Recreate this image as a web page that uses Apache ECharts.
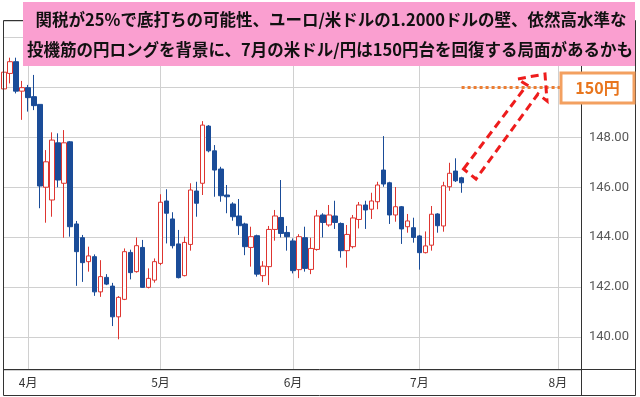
<!DOCTYPE html>
<html><head><meta charset="utf-8">
<script src="https://cdn.jsdelivr.net/npm/echarts@6/dist/echarts.min.js"></script>
<style>html,body{margin:0;padding:0;background:#fff}#c{width:640px;height:397px}</style>
</head><body><div id="c"></div>
<script>
// Trading days (weekdays) shown on the category axis
const dates = [
 '3/26','3/27','3/28','3/31',
 '4/1','4/2','4/3','4/4','4/7','4/8','4/9','4/10','4/11','4/14','4/15','4/16','4/17','4/18','4/21','4/22','4/23','4/24','4/25','4/28','4/29','4/30',
 '5/1','5/2','5/5','5/6','5/7','5/8','5/9','5/12','5/13','5/14','5/15','5/16','5/19','5/20','5/21','5/22','5/23','5/26','5/27','5/28','5/29','5/30',
 '6/2','6/3','6/4','6/5','6/6','6/9','6/10','6/11','6/12','6/13','6/16','6/17','6/18','6/19','6/20','6/23','6/24','6/25','6/26','6/27','6/30',
 '7/1','7/2','7/3','7/4','7/7','7/8','7/9','7/10','7/11','7/14','7/15','7/16','7/17','7/18','7/21','7/22','7/23','7/24','7/25','7/28','7/29','7/30','7/31',
 '8/1','8/4','8/5','8/6','8/7'
];
const opens = [149.94,150.56,151.03,149.85,149.99,149.63,149.32,146.00,145.49,147.78,146.16,147.82,144.53,143.98,143.02,143.22,141.81,142.39,142.04,140.81,
 141.51,143.39,142.62,143.59,141.99,142.28,142.95,145.45,144.73,143.73,142.46,143.71,145.85,146.16,148.45,147.46,146.73,145.69,145.33,144.85,
 144.53,143.59,144.06,142.46,142.82,144.31,144.79,144.19,143.85,142.70,143.98,142.71,143.51,144.89,144.49,144.85,144.55,143.46,143.62,144.71,
 145.29,145.12,145.42,146.69,146.18,144.89,145.22,144.42,144.38,144.05,143.38,143.68,144.93,144.45,146.02,146.65,146.38];
const closes = [150.61,151.03,149.85,149.99,149.59,149.27,146.05,147.02,147.89,146.29,147.78,144.42,143.42,142.98,143.25,141.81,142.42,142.12,140.81,141.59,
 143.42,142.58,143.66,141.99,142.35,143.02,145.40,144.96,143.66,142.38,143.79,145.89,145.36,148.49,147.46,146.69,145.66,145.62,144.82,144.46,
 143.62,144.02,142.52,142.84,144.31,144.85,144.15,144.02,142.66,144.02,142.75,143.55,144.85,144.59,144.89,144.59,143.46,144.11,144.77,145.29,
 145.09,145.45,146.09,146.13,144.89,145.22,144.33,144.65,143.99,143.38,143.65,144.92,144.46,146.06,146.56,146.26,146.18];
const lows = [149.85,150.16,149.76,148.70,149.03,149.09,145.16,144.58,144.82,146.00,143.98,144.02,142.05,142.21,142.62,141.65,141.61,142.08,140.44,139.91,
 141.48,142.31,142.58,141.97,141.95,142.18,142.88,143.75,143.55,142.35,142.43,143.46,144.82,145.69,147.40,145.62,145.42,144.96,144.66,144.09,
 143.28,142.82,142.42,142.21,142.08,143.86,143.99,143.46,142.55,142.36,142.62,142.52,143.46,143.99,144.42,144.33,143.18,142.78,143.55,144.35,
 144.33,144.73,145.12,146.02,144.53,144.62,143.73,144.18,143.78,142.70,143.35,143.46,144.18,144.22,145.86,146.21,145.78];
const highs = [150.75,151.19,151.19,150.26,150.10,150.50,149.32,147.49,148.20,148.16,148.29,147.85,144.65,144.09,143.62,143.31,143.08,142.52,142.17,141.64,
 143.55,143.50,143.99,143.89,142.75,143.15,145.72,145.92,145.00,144.29,144.02,146.16,146.22,148.65,148.49,147.69,146.82,146.09,145.40,145.53,
 144.58,144.42,144.10,143.04,144.45,145.09,146.29,144.45,143.95,144.12,144.42,143.98,145.09,144.96,145.29,145.46,144.59,144.49,144.89,145.41,
 145.46,145.78,146.22,148.05,146.22,146.01,145.25,144.93,144.78,144.09,144.23,145.25,144.96,146.22,146.98,147.16,146.42];
const targetLevel = 150;
const targetLabel = '150円';
const titleLines = [
 '関税が25%で底打ちの可能性、ユーロ/米ドルの1.2000ドルの壁、依然高水準な',
 '投機筋の円ロングを背景に、7月の米ドル/円は150円台を回復する局面があるかも'
];

const ohlc = opens.map((o, i) => [o, closes[i], lows[i], highs[i]]);
const isMonthStart = (i) => i > 0 && dates[i].split('/')[0] !== dates[i - 1].split('/')[0];

const chart = echarts.init(document.getElementById('c'), null, {renderer: 'canvas'});
const RED = '#de3530', BLUE = '#1a4c98';
chart.setOption({
  animation: false,
  backgroundColor: '#fff',
  grid: {left: 4, right: 58, top: 21, bottom: 27},
  xAxis: {
    type: 'category', data: dates, boundaryGap: false,
    axisLine: {show: false}, axisTick: {show: false},
    axisLabel: {interval: (i) => isMonthStart(i), formatter: (v) => v.split('/')[0] + '月',
      color: '#333', fontSize: 12, margin: 6, fontFamily: '"Noto Sans CJK JP"'},
    splitLine: {show: true, interval: (i) => isMonthStart(i), lineStyle: {color: '#d0d0d0', width: 1}}
  },
  yAxis: {
    type: 'value', position: 'right', min: 138.68, max: 152.66, splitNumber: 7, scale: true,
    axisLine: {show: false}, axisTick: {show: false},
    axisLabel: {showMinLabel: false, showMaxLabel: false, formatter: (v) => v.toFixed(2),
      color: '#595959', fontSize: 13, margin: 7, fontFamily: 'Roboto'},
    splitLine: {lineStyle: {color: '#d0d0d0', width: 1}}
  },
  series: [{
    type: 'candlestick', data: ohlc, barWidth: 5,
    itemStyle: {color: '#fff', color0: BLUE, borderColor: RED, borderColor0: BLUE, borderWidth: 1},
    markLine: {
      silent: true, symbol: 'none', label: {show: false},
      lineStyle: {color: '#ed7d31', width: 3, type: [3, 3]},
      data: [[{coord: [dates[76], targetLevel]}, {coord: [dates[93], targetLevel]}]]
    }
  }],
  graphic: [
    {type: 'line', z: 50, shape: {x1: 581.5, y1: 20.5, x2: 581.5, y2: 396}, style: {stroke: '#333', lineWidth: 1}},
    {type: 'line', z: 50, shape: {x1: 3.5, y1: 369.5, x2: 636, y2: 369.5}, style: {stroke: '#333', lineWidth: 1}},
    {type: 'rect', z: 50, shape: {x: 3.5, y: 20.5, width: 632, height: 375}, style: {fill: 'none', stroke: '#333', lineWidth: 1}},
    {type: 'polygon', z: 60, shape: {points: [[463.5,169],[527,85],[517.5,79],[545,74],[547,101],[538,94],[476,179]]},
      style: {fill: 'none', stroke: '#ee1c1c', lineWidth: 3, lineDash: [8, 5]}},
    {type: 'rect', z: 70, shape: {x: 561, y: 73, width: 73, height: 30}, style: {fill: '#fff', stroke: '#f3a060', lineWidth: 3}},
    {type: 'text', z: 71, x: 597.5, y: 88, style: {text: targetLabel, fill: '#e8761e', font: 'bold 16px "Noto Sans CJK JP"', align: 'center', verticalAlign: 'middle'}},
    {type: 'rect', z: 80, shape: {x: 23, y: 2, width: 612, height: 64}, style: {fill: '#fa9fd0'}},
    {type: 'text', z: 81, x: 331, y: 20, style: {text: titleLines[0], fill: '#111', font: 'bold 16.5px "Noto Sans CJK JP"', align: 'center', verticalAlign: 'middle'}},
    {type: 'text', z: 81, x: 330, y: 50, style: {text: titleLines[1], fill: '#111', font: 'bold 16.5px "Noto Sans CJK JP"', align: 'center', verticalAlign: 'middle'}}
  ]
});
</script></body></html>
